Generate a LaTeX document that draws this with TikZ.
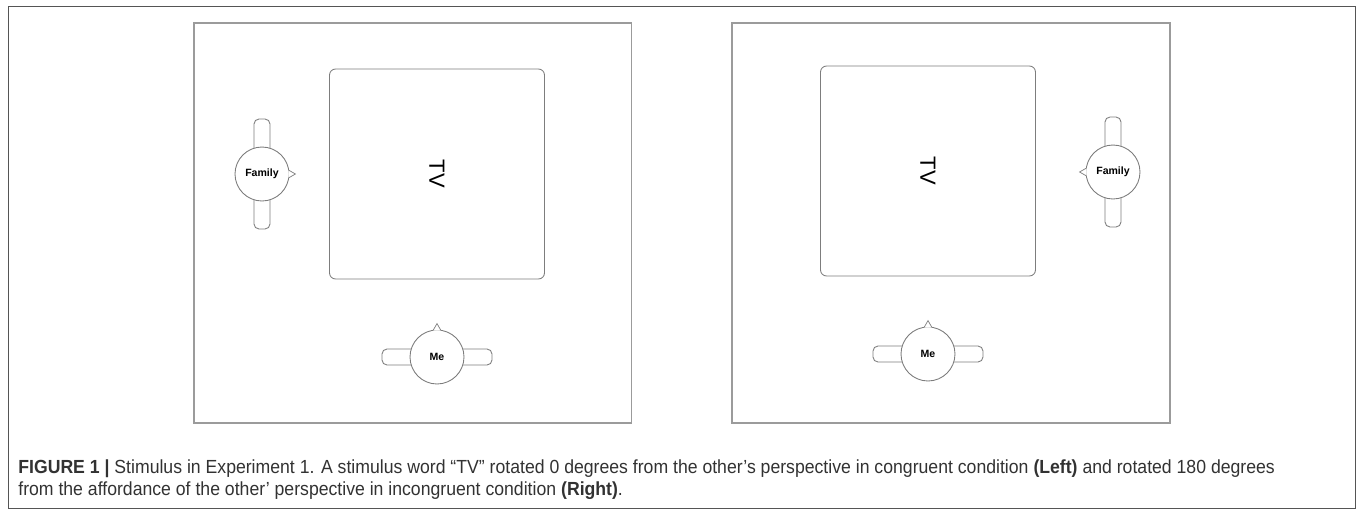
\documentclass[tikz,border=0pt]{standalone}
\usepackage{fontspec}
\setmainfont{Liberation Sans}
\newfontfamily\capfont{Liberation Sans}[FakeStretch=0.93]
\usetikzlibrary{positioning,calc}
\definecolor{framegray}{RGB}{85,85,85}
\definecolor{panelgray}{RGB}{155,155,155}
\definecolor{linegray}{RGB}{125,125,125}
\definecolor{captext}{RGB}{50,50,50}

\begin{document}
\begin{tikzpicture}[
        x=0.02cm, y=-0.02cm,
        % one square panel per condition
        panel/.style={draw=panelgray, line width=0.9pt, minimum width=8.76cm,
            minimum height=8cm, inner sep=0, anchor=north west},
        tvbox/.style={draw=linegray, line width=0.5pt, rounded corners=0.12cm,
            minimum width=4.3cm, minimum height=4.2cm, inner sep=0},
        seat/.style={circle, draw=linegray, fill=white, line width=0.5pt,
            minimum size=1.08cm, inner sep=0,
            font=\bfseries\fontsize{6}{7}\selectfont},
        vbar/.style={draw=linegray, line width=0.5pt, rounded corners=0.1cm,
            minimum width=0.32cm, minimum height=2.2cm, inner sep=0},
        hbar/.style={vbar, minimum width=2.2cm, minimum height=0.32cm},
        tip/.style={draw=linegray, line width=0.4pt, fill=white},
        word/.style={rotate=-90, inner sep=0, font=\fontsize{12.5}{14}\selectfont}
    ]
        \useasboundingbox (0,0) rectangle (1357,511);
        \draw[framegray, line width=0.5pt] (8,6) rectangle (1355,508);

        % Left panel: congruent
        \node[panel] (lpanel) at (193,22) {};
        \node[tvbox] (ltv) at (437,174) {};
        \node[word] (ltvword) at (ltv) {TV};
        \node[vbar] (lfambar) at (262,174) {};
        \node[seat] (lfam) at (lfambar) {Family};
        \draw[tip] ($(lfam.east)+(-1,-4)$) -- ++(7,4) -- ++(-7,4);
        \node[hbar] (lmebar) at (437,357) {};
        \node[seat] (lme) at (lmebar) {Me};
        \draw[tip] ($(lme.north)+(-4,1)$) -- ++(4,-7) -- ++(4,7);

        % Right panel: incongruent
        \node[panel] (rpanel) at (731,22) {};
        \node[tvbox] (rtv) at (928,171) {};
        \node[word] (rtvword) at (rtv) {TV};
        \node[vbar] (rfambar) at (1113,172) {};
        \node[seat] (rfam) at (rfambar) {Family};
        \draw[tip] ($(rfam.west)+(1,-4)$) -- ++(-7,4) -- ++(7,4);
        \node[hbar] (rmebar) at (928,354) {};
        \node[seat] (rme) at (rmebar) {Me};
        \draw[tip] ($(rme.north)+(-4,1)$) -- ++(4,-7) -- ++(4,7);

        % Caption
        \node[anchor=north west, inner sep=0, align=left, text=captext,
            font=\capfont\fontsize{10.8}{12.8}\selectfont] (caption) at (18,459)
            {\textbf{FIGURE 1 |} Stimulus in Experiment 1. A stimulus word “TV” rotated 0 degrees from the other’s perspective in congruent condition \textbf{(Left)} and rotated 180 degrees\\
            from the affordance of the other’ perspective in incongruent condition \textbf{(Right)}.};
    \end{tikzpicture}
\end{document}
